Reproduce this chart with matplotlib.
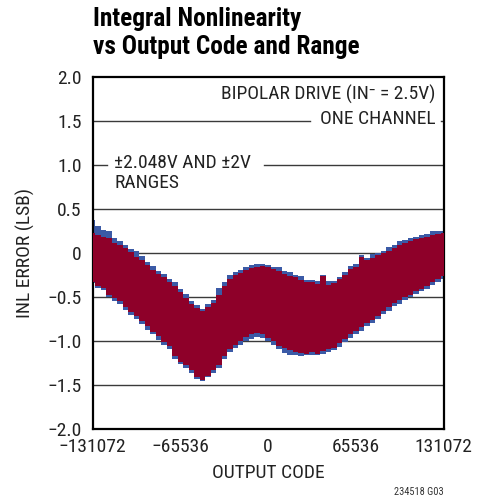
import matplotlib
matplotlib.use('Agg')
import matplotlib.pyplot as plt
import numpy as np

plt.rcParams['font.family'] = ['Roboto Condensed', 'DejaVu Sans']

# output codes, one sample every 4096 codes
codes = np.arange(-131072, 131073, 4096)

# envelopes of the INL band (LSB)
red_hi = [0.22, 0.20, 0.18, 0.17, 0.11, 0.08, 0.05, 0.01, -0.05, -0.08,
          -0.14, -0.20, -0.24, -0.28, -0.33, -0.38, -0.45, -0.52, -0.58, -0.63,
          -0.66, -0.62, -0.57, -0.48, -0.38, -0.30, -0.26, -0.23, -0.20, -0.18,
          -0.16, -0.15, -0.17, -0.19, -0.21, -0.24, -0.27, -0.28, -0.31, -0.33,
          -0.34, -0.36, -0.27, -0.37, -0.35, -0.30, -0.25, -0.19, -0.16, -0.05,
          -0.09, -0.06, -0.03, -0.01, 0.02, 0.05, 0.08, 0.11, 0.13, 0.15,
          0.16, 0.18, 0.20, 0.21, 0.22]
red_lo = [-0.33, -0.38, -0.40, -0.48, -0.52, -0.55, -0.62, -0.68, -0.72, -0.78,
          -0.84, -0.90, -0.95, -1.02, -1.06, -1.18, -1.24, -1.28, -1.33, -1.42,
          -1.45, -1.40, -1.34, -1.28, -1.18, -1.10, -1.05, -1.00, -0.96, -0.93,
          -0.92, -0.93, -0.97, -1.01, -1.06, -1.09, -1.11, -1.13, -1.14, -1.15,
          -1.13, -1.15, -1.12, -1.10, -1.08, -1.03, -0.98, -0.93, -0.89, -0.85,
          -0.80, -0.77, -0.72, -0.67, -0.62, -0.57, -0.54, -0.50, -0.48, -0.44,
          -0.41, -0.38, -0.34, -0.30, -0.27]
blue_hi = [0.37, 0.30, 0.26, 0.24, 0.17, 0.13, 0.08, 0.04, 0.02, -0.04,
           -0.11, -0.15, -0.21, -0.24, -0.30, -0.34, -0.42, -0.47, -0.55, -0.60,
           -0.64, -0.58, -0.54, -0.40, -0.33, -0.25, -0.22, -0.20, -0.17, -0.14,
           -0.13, -0.13, -0.14, -0.16, -0.17, -0.21, -0.22, -0.25, -0.27, -0.31,
           -0.31, -0.32, -0.25, -0.32, -0.32, -0.28, -0.22, -0.15, -0.13, -0.03,
           -0.06, -0.02, 0.00, 0.02, 0.06, 0.08, 0.13, 0.14, 0.17, 0.18,
           0.20, 0.21, 0.24, 0.24, 0.25]
blue_lo = [-0.35, -0.40, -0.43, -0.50, -0.55, -0.58, -0.65, -0.71, -0.76, -0.81,
           -0.88, -0.93, -0.99, -1.05, -1.10, -1.21, -1.27, -1.31, -1.37, -1.44,
           -1.46, -1.42, -1.37, -1.31, -1.21, -1.13, -1.08, -1.05, -1.01, -0.98,
           -0.96, -0.97, -1.00, -1.05, -1.10, -1.14, -1.16, -1.17, -1.18, -1.17,
           -1.16, -1.17, -1.15, -1.13, -1.11, -1.07, -1.02, -0.97, -0.93, -0.89,
           -0.84, -0.80, -0.75, -0.70, -0.66, -0.61, -0.58, -0.54, -0.51, -0.47,
           -0.44, -0.41, -0.37, -0.33, -0.30]

x_ticks = [-131072, -65536, 0, 65536, 131072]
x_labels = ['\u2212131072', '\u221265536', '0', '65536', '131072']
y_ticks = [-2.0, -1.5, -1.0, -0.5, 0, 0.5, 1.0, 1.5, 2.0]
y_labels = ['\u22122.0', '\u22121.5', '\u22121.0', '\u22120.5', '0', '0.5', '1.0', '1.5', '2.0']

fig = plt.figure(figsize=(4.88, 5.01), dpi=100)
ax = fig.add_axes([0.190, 0.1447, 0.719, 0.7026])

# grid lines (1.0 and 1.5 are broken around the labels)
for y in [-1.5, -1.0, -0.5, 0, 0.5]:
    ax.axhline(y, color='#3a3a3a', lw=1.0, zorder=1)
ax.axhline(1.0, xmin=0, xmax=0.041, color='#3a3a3a', lw=1.0, zorder=1)
ax.axhline(1.0, xmin=0.488, xmax=1, color='#3a3a3a', lw=1.0, zorder=1)
ax.axhline(1.5, xmin=0, xmax=0.62, color='#3a3a3a', lw=1.0, zorder=1)
ax.axhline(1.5, xmin=0.992, xmax=1, color='#3a3a3a', lw=1.0, zorder=1)

ax.fill_between(codes, blue_lo, blue_hi, step='mid', color='#3b5aa6', lw=0, zorder=2)
ax.fill_between(codes, red_lo, red_hi, step='mid', color='#8e0029', lw=0, zorder=3)

ax.set_xlim(-131072, 131072)
ax.set_ylim(-2, 2)
ax.set_xticks(x_ticks)
ax.set_xticklabels(x_labels)
ax.set_yticks(y_ticks)
ax.set_yticklabels(y_labels)
ax.tick_params(length=0, labelsize=14, colors='#222222')
ax.tick_params(axis='y', pad=8)
ax.tick_params(axis='x', pad=7)
for s in ax.spines.values():
    s.set_linewidth(1.6)
    s.set_color('black')

ax.set_xlabel('OUTPUT CODE', fontsize=14, color='#222222')
ax.xaxis.set_label_coords(0.5, -0.10)
ax.set_ylabel('INL ERROR (LSB)', fontsize=14, color='#222222')
ax.yaxis.set_label_coords(-0.165, 0.5)

ax.text(125300, 1.80, 'BIPOLAR DRIVE (IN\u207b = 2.5V)', ha='right', va='center',
        fontsize=14, color='#222222')
ax.text(125300, 1.52, 'ONE CHANNEL', ha='right', va='center',
        fontsize=14, color='#222222')
ax.text(-115150, 1.02, '\u00b12.048V AND \u00b12V', ha='left', va='center',
        fontsize=14, color='#222222')
ax.text(-115150, 0.79, 'RANGES', ha='left', va='center',
        fontsize=14, color='#222222')

fig.text(0.191, 0.934, 'Integral Nonlinearity\nvs Output Code and Range',
         ha='left', va='center', fontsize=18.3, fontweight='bold',
         linespacing=1.2, color='black')
fig.text(0.909, 0.018, '234518 G03', ha='right', va='center', fontsize=7.5,
         color='#333333')

fig.savefig('out.png', dpi=100)
